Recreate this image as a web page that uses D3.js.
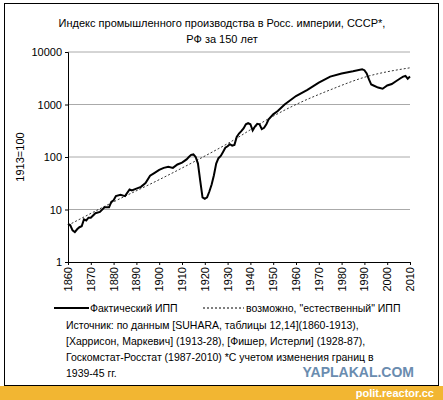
<!DOCTYPE html><html><head><meta charset="utf-8"><script src="https://d3js.org/d3.v7.min.js"></script>
<style>body{margin:0;background:#fff}text{font-family:"Liberation Sans",Arial,sans-serif}</style></head><body>
<script>
const years=[1860,1861,1862,1863,1864,1865,1866,1867,1868,1869,1870,1872,1874,1876,1878,1879,1880,1881,1883,1885,1887,1888,1890,1892,1894,1896,1898,1900,1902,1904,1906,1908,1910,1912,1913,1914,1915,1916,1917,1918,1919,1920,1921,1922,1923,1924,1925,1926,1927,1928,1929,1930,1931,1932,1933,1934,1935,1936,1937,1938,1939,1940,1941,1942,1943,1944,1945,1946,1947,1948,1950,1952,1955,1960,1965,1970,1975,1980,1985,1989,1990,1991,1992,1993,1994,1996,1998,2000,2002,2004,2006,2007,2008,2009,2010];
const actual=[5.3,5,4,3.7,4.2,4.6,4.8,6.5,6.2,7,7,8.5,9,11,11,14,15,18,19,18,24,23,25,27,32,44,50,57,62,65,62,72,78,90,100,110,112,100,75,35,17,16,17,22,30,45,75,95,105,125,150,160,175,165,170,240,280,310,350,420,440,420,320,380,430,420,340,360,420,520,650,750,1000,1450,1900,2600,3400,3900,4300,4700,4500,3900,3000,2400,2300,2100,2000,2300,2450,2800,3200,3400,3500,3100,3400];
const trendYears=[1860,1880,1900,1915,1930,1950,1960,1975,1990,2010];
const trend=[5,14,37,80,180,600,1000,1900,3300,5000];
const yTicks=[1,10,100,1000,10000];
const xTicks=d3.range(1860,2011,10);
const legendLabels=["Фактический ИПП","возможно, \"естественный\" ИПП"];
const title=["Индекс промышленного производства в Росс. империи, СССР*,","РФ за 150 лет"];
const source=["Источник: по данным [SUHARA, таблицы 12,14](1860-1913),","[Харрисон, Маркевич] (1913-28), [Фишер, Истерли] (1928-87),","Госкомстат-Росстат (1987-2010) *С учетом изменения границ в","1939-45 гг."];

const svg=d3.select("body").append("svg").attr("width",443).attr("height",400);
svg.append("rect").attr("x",4.5).attr("y",3.5).attr("width",434).attr("height",382).attr("fill","#fff").attr("stroke","#000");
svg.append("rect").attr("x",0).attr("y",386).attr("width",443).attr("height",14).attr("fill","#f2b632");
svg.append("text").attr("x",434).attr("y",397).attr("text-anchor","end").attr("fill","#fff").attr("font-weight","bold").attr("font-size",11).attr("font-family","DejaVu Sans").text("polit.reactor.cc");
const x=d3.scaleLinear().domain([1860,2010]).range([68,410]);
const y=d3.scaleLog().domain([1,10000]).range([262,52]);
title.forEach((t,i)=>svg.append("text").attr("x",222).attr("y",27+i*16).attr("text-anchor","middle").attr("font-size",11).text(t));
svg.selectAll(".g").data(yTicks.slice(1)).enter().append("line").attr("x1",68).attr("x2",410).attr("y1",d=>y(d)).attr("y2",d=>y(d)).attr("stroke","#aaa");
const ya=svg.append("g").attr("transform","translate(68,0)").call(d3.axisLeft(y).tickValues(yTicks).tickFormat(d3.format("d")).tickSize(3));
ya.selectAll("text").attr("font-size",11).attr("fill","#000");
svg.append("g").attr("transform","translate(0,262)").call(d3.axisBottom(x).tickValues(xTicks).tickFormat("").tickSize(3));
svg.selectAll(".domain").attr("stroke","#000");
svg.append("g").selectAll("text").data(xTicks).enter().append("text")
  .attr("x",d=>x(d)+4).attr("y",267)
  .attr("transform",d=>"rotate(-90 "+(x(d)+4)+" 267)")
  .attr("text-anchor","end").attr("font-size",11).text(d=>String(d));
svg.append("text").attr("transform","translate(24,157) rotate(-90)").attr("text-anchor","middle").attr("font-size",11).text("1913=100");
svg.append("path").datum(trendYears.map((t,i)=>[t,trend[i]])).attr("d",d3.line().x(d=>x(d[0])).y(d=>y(d[1])).curve(d3.curveMonotoneX)).attr("fill","none").attr("stroke","#000").attr("stroke-width",0.8).attr("stroke-dasharray","2,2");
svg.append("path").datum(years.map((t,i)=>[t,actual[i]])).attr("d",d3.line().x(d=>x(d[0])).y(d=>y(d[1]))).attr("fill","none").attr("stroke","#000").attr("stroke-width",2);
svg.append("line").attr("x1",54).attr("x2",89).attr("y1",308).attr("y2",308).attr("stroke","#000").attr("stroke-width",2);
svg.append("text").attr("x",90).attr("y",312).attr("font-size",10.5).text(legendLabels[0]);
svg.append("line").attr("x1",203).attr("x2",244).attr("y1",308).attr("y2",308).attr("stroke","#000").attr("stroke-dasharray","2,2");
svg.append("text").attr("x",246).attr("y",312).attr("font-size",10.5).text(legendLabels[1]);
source.forEach((t,i)=>svg.append("text").attr("x",66).attr("y",329+i*16).attr("font-size",10.5).text(t));
svg.append("text").attr("x",414).attr("y",377).attr("text-anchor","end").attr("font-size",14).attr("font-weight","900").attr("font-family","DejaVu Sans").attr("fill","#6a8caf").text("YAPLAKAL.COM");
</script></body></html>
